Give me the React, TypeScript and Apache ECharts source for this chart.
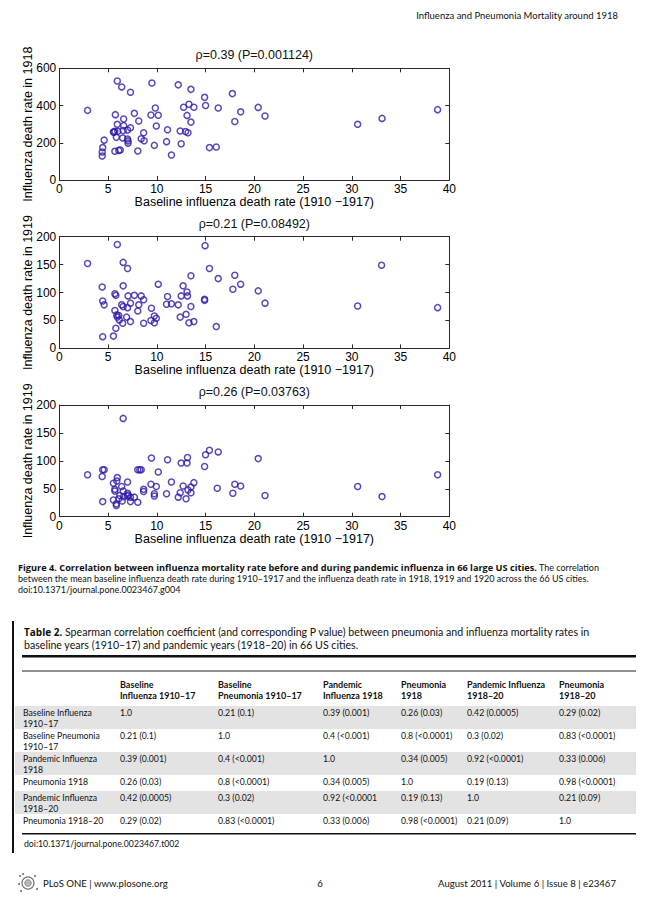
import React, { useEffect, useRef } from "react";
import * as echarts from "echarts";

// ---------- data ----------
const baseline1918 = [2.9, 4.4, 4.4, 4.45, 4.6, 5.55, 5.6, 5.7, 5.75, 5.7, 5.85, 5.95, 5.95, 6.0, 6.1, 6.25, 6.4, 6.5, 6.55, 6.6, 6.6, 7.0, 7.0, 7.05, 7.05, 7.3, 7.3, 7.7, 8.05, 8.15, 8.4, 8.65, 8.7, 9.4, 9.5, 9.75, 9.85, 9.95, 10.15, 11.0, 11.1, 11.5, 12.2, 12.4, 12.5, 12.75, 12.95, 13.1, 13.2, 13.3, 13.5, 13.5, 13.8, 14.9, 15.0, 15.4, 16.1, 16.3, 17.75, 18.0, 18.6, 20.4, 21.1, 30.6, 33.1, 38.8];
const rate1918 = [374, 129, 150, 174, 214, 258, 256, 262, 351, 154, 229, 299, 532, 262, 159, 161, 500, 226, 266, 292, 328, 269, 220, 198, 210, 281, 471, 358, 156, 317, 222, 254, 211, 349, 521, 186, 387, 290, 348, 206, 270, 134, 511, 263, 195, 391, 260, 347, 254, 407, 311, 487, 391, 444, 400, 174, 177, 387, 464, 314, 366, 390, 344, 299, 331, 378];

const baseline1919 = [2.9, 5.95, 14.95, 6.55, 7.0, 15.4, 33.05, 13.5, 18.0, 16.3, 18.6, 10.15, 6.55, 12.7, 17.8, 20.4, 4.4, 13.1, 11.1, 12.5, 13.15, 7.05, 7.7, 8.4, 8.65, 5.7, 5.8, 4.45, 4.6, 14.9, 14.9, 21.1, 7.3, 8.15, 6.55, 6.4, 7.0, 11.0, 11.5, 12.2, 13.5, 30.6, 38.8, 9.45, 8.05, 5.7, 5.9, 6.1, 5.95, 6.9, 9.75, 9.95, 12.4, 13.0, 6.15, 7.3, 9.4, 9.75, 6.5, 8.65, 13.3, 13.8, 5.8, 16.1, 4.45, 5.55];
const rate1919 = [152, 186, 184, 154, 143, 143, 149, 130, 131, 125, 115, 115, 112, 112, 106, 103, 110, 101, 93, 94, 94, 94, 95, 94, 87, 98, 95, 85, 78, 88, 86, 81, 81, 78, 75, 78, 73, 79, 80, 78, 75, 76, 73, 72, 67, 68, 60, 59, 56, 56, 58, 54, 56, 61, 51, 48, 50, 46, 45, 45, 46, 48, 36, 39, 21, 22];

const baseline1920 = [2.9, 6.55, 4.45, 4.6, 4.4, 4.45, 9.45, 11.1, 12.5, 13.1, 13.15, 15.0, 15.4, 16.3, 20.4, 14.9, 8.05, 8.25, 8.4, 10.15, 7.0, 11.5, 13.8, 5.95, 5.9, 5.55, 6.4, 5.7, 5.7, 6.55, 8.65, 8.65, 9.4, 9.95, 9.75, 9.75, 11.0, 12.7, 13.5, 13.2, 13.5, 12.4, 12.2, 13.0, 16.2, 18.0, 18.6, 17.8, 21.1, 30.6, 33.1, 38.8, 5.55, 5.85, 5.85, 6.2, 6.1, 6.45, 6.6, 7.0, 7.05, 7.3, 7.3, 7.7, 8.05, 7.0];
const rate1920 = [75, 176, 84, 84, 72, 27, 105, 102, 96, 96, 106, 111, 119, 116, 104, 90, 84, 84, 84, 80, 62, 62, 61, 70, 64, 60, 54, 49, 46, 46, 49, 45, 58, 54, 41, 37, 41, 55, 53, 48, 43, 43, 35, 32, 51, 58, 55, 42, 38, 54, 36, 75, 30, 23, 20, 38, 32, 28, 36, 42, 39, 35, 27, 35, 26, 37];

const plotTitles = ["ρ=0.39 (P=0.001124)", "ρ=0.21 (P=0.08492)", "ρ=0.26 (P=0.03763)"];
const yAxisNames = ["Influenza death rate in 1918", "Influenza death rate in 1919", "Influenza death rate in 1919"];
const xAxisName = "Baseline influenza death rate (1910 −1917)";
const yMaxes = [600, 200, 200];
const yIntervals = [200, 50, 50];

const pageHeader = "Influenza and Pneumonia Mortality around 1918";
const captionBold = "Figure 4. Correlation between influenza mortality rate before and during pandemic influenza in 66 large US cities.";
const captionLines = [
  " The correlation",
  "between the mean baseline influenza death rate during 1910–1917 and the influenza death rate in 1918, 1919 and 1920 across the 66 US cities.",
  "doi:10.1371/journal.pone.0023467.g004",
];
const tableTitleBold = "Table 2.";
const tableTitleLines = [
  " Spearman correlation coefficient (and corresponding P value) between pneumonia and influenza mortality rates in",
  "baseline years (1910–17) and pandemic years (1918–20) in 66 US cities.",
];
const tableColumns = [
  ["Baseline", "Influenza 1910–17"],
  ["Baseline", "Pneumonia 1910–17"],
  ["Pandemic", "Influenza 1918"],
  ["Pneumonia", "1918"],
  ["Pandemic Influenza", "1918–20"],
  ["Pneumonia", "1918–20"],
];
const tableRowLabels = [
  ["Baseline Influenza", "1910–17"],
  ["Baseline Pneumonia", "1910–17"],
  ["Pandemic Influenza", "1918"],
  ["Pneumonia 1918"],
  ["Pandemic Influenza", "1918–20"],
  ["Pneumonia 1918–20"],
];
const tableCells = [
  ["1.0", "0.21 (0.1)", "0.39 (0.001)", "0.26 (0.03)", "0.42 (0.0005)", "0.29 (0.02)"],
  ["0.21 (0.1)", "1.0", "0.4 (<0.001)", "0.8 (<0.0001)", "0.3 (0.02)", "0.83 (<0.0001)"],
  ["0.39 (0.001)", "0.4 (<0.001)", "1.0", "0.34 (0.005)", "0.92 (<0.0001)", "0.33 (0.006)"],
  ["0.26 (0.03)", "0.8 (<0.0001)", "0.34 (0.005)", "1.0", "0.19 (0.13)", "0.98 (<0.0001)"],
  ["0.42 (0.0005)", "0.3 (0.02)", "0.92 (<0.0001", "0.19 (0.13)", "1.0", "0.21 (0.09)"],
  ["0.29 (0.02)", "0.83 (<0.0001)", "0.33 (0.006)", "0.98 (<0.0001)", "0.21 (0.09)", "1.0"],
];
const tableDoi = "doi:10.1371/journal.pone.0023467.t002";
const footerLeft = "PLoS ONE | www.plosone.org";
const footerPage = "6";
const footerRight = "August 2011 | Volume 6 | Issue 8 | e23467";

// ---------- layout ----------
const W = 651;
const H = 901;
const GRID_LEFT = 59.3;
const GRID_WIDTH = 390;
const GRID_TOPS = [68.3, 236.7, 405];
const GRID_HEIGHT = 111.7;
const TITLE_Y = [55, 223.5, 392];
const PLOT_FONT = "'Liberation Sans', Arial, sans-serif";
const DOC_FONT = "Lato, 'Open Sans', sans-serif";
const BOLD_FONT = "'Open Sans', Lato, sans-serif";
const MARK = "#3119a8";
const AXIS = "#2a2a2a";

function buildOption() {
  const xs = [baseline1918, baseline1919, baseline1920];
  const ys = [rate1918, rate1919, rate1920];
  const grids: any[] = [];
  const xAxes: any[] = [];
  const yAxes: any[] = [];
  const series: any[] = [];
  const g: any[] = [];

  for (let i = 0; i < 3; i++) {
    grids.push({ left: GRID_LEFT, top: GRID_TOPS[i], width: GRID_WIDTH, height: GRID_HEIGHT, containLabel: false });
    const line = { show: true, onZero: false, lineStyle: { color: AXIS, width: 1 } };
    const tick = { show: true, inside: true, length: 4, lineStyle: { color: AXIS, width: 1 } };
    xAxes.push({
      gridIndex: i, type: "value", position: "bottom", min: 0, max: 40, interval: 5,
      axisLine: line, axisTick: tick, splitLine: { show: false },
      axisLabel: { color: "#000", fontSize: 12, fontFamily: PLOT_FONT, margin: 3 },
      name: xAxisName, nameLocation: "middle", nameGap: 22, nameMoveOverlap: false,
      nameTextStyle: { color: "#000", fontSize: 12.5, fontFamily: PLOT_FONT, verticalAlign: "middle" },
    });
    xAxes.push({
      gridIndex: i, type: "value", position: "top", min: 0, max: 40, interval: 5,
      axisLine: line, axisTick: tick, splitLine: { show: false }, axisLabel: { show: false },
    });
    yAxes.push({
      gridIndex: i, type: "value", position: "left", min: 0, max: yMaxes[i], interval: yIntervals[i],
      axisLine: line, axisTick: tick, splitLine: { show: false },
      axisLabel: { color: "#000", fontSize: 12, fontFamily: PLOT_FONT, margin: 3 },
      name: yAxisNames[i], nameLocation: "middle", nameGap: 31, nameMoveOverlap: false,
      nameTextStyle: { color: "#000", fontSize: 12.5, fontFamily: PLOT_FONT, verticalAlign: "middle" },
    });
    yAxes.push({
      gridIndex: i, type: "value", position: "right", min: 0, max: yMaxes[i], interval: yIntervals[i],
      axisLine: line, axisTick: tick, splitLine: { show: false }, axisLabel: { show: false },
    });
    series.push({
      type: "scatter", xAxisIndex: 2 * i, yAxisIndex: 2 * i,
      data: xs[i].map((x, k) => [x, ys[i][k]]),
      symbol: "circle", symbolSize: 6,
      itemStyle: { color: "rgba(0,0,0,0)", borderColor: MARK, borderWidth: 1.5 },
      emphasis: { disabled: true },
    });
    g.push(text(GRID_LEFT + GRID_WIDTH / 2, TITLE_Y[i], plotTitles[i], { size: 12.5, family: PLOT_FONT, align: "center" }));
  }

  // page header
  g.push(text(618, 15, pageHeader, { size: 9.5, align: "right" }));

  // caption
  g.push(rich(18, 567, captionBold, captionLines[0], 9.2, 9));
  g.push(text(18, 578, captionLines[1], { size: 9 }));
  g.push(text(18, 589, captionLines[2], { size: 9 }));

  // table
  g.push({ type: "rect", silent: true, shape: { x: 12, y: 621, width: 2, height: 232 }, style: { fill: "#111" } });
  g.push(rich(24, 632, tableTitleBold, tableTitleLines[0], 10, 10.6));
  g.push(text(24, 645, tableTitleLines[1], { size: 10.6 }));
  const RULE_L = 22, RULE_R = 636;
  g.push({ type: "rect", silent: true, shape: { x: RULE_L, y: 655, width: RULE_R - RULE_L, height: 2.4 }, style: { fill: "#111" } });
  g.push({ type: "rect", silent: true, shape: { x: RULE_L, y: 670.5, width: RULE_R - RULE_L, height: 1 }, style: { fill: "#222" } });
  const colX = [23, 120, 218, 323, 401, 467, 559];
  tableColumns.forEach((lines, c) => {
    lines.forEach((ln, k) => g.push(text(colX[c + 1], 684 + k * 11.5, ln, { size: 9, weight: "bold" })));
  });
  let top = 706;
  tableRowLabels.forEach((lab, r) => {
    const h = lab.length === 2 ? 23 : 16;
    if (r % 2 === 0) {
      g.push({ type: "rect", silent: true, z: -1, shape: { x: 15, y: top, width: RULE_R - 15, height: h }, style: { fill: "#e3e3e3" } });
    }
    lab.forEach((ln, k) => g.push(text(colX[0], top + 6 + k * 11, ln, { size: 8.7 })));
    tableCells[r].forEach((v, c) => g.push(text(colX[c + 1], top + 6, v, { size: 8.7 })));
    top += h;
  });
  g.push({ type: "rect", silent: true, shape: { x: RULE_L, y: top + 3, width: RULE_R - RULE_L, height: 1.4 }, style: { fill: "#111" } });
  g.push(text(24, top + 13, tableDoi, { size: 8.7 }));

  // footer
  g.push({ type: "circle", silent: true, shape: { cx: 28, cy: 883, r: 6 }, style: { fill: "none", stroke: "#777", lineWidth: 1.2 } });
  g.push({ type: "circle", silent: true, shape: { cx: 28, cy: 883, r: 3.2 }, style: { fill: "#bbb", stroke: "#666", lineWidth: 0.8 } });
  [[20, 876], [23, 874], [35, 876], [21, 891], [37, 889], [19, 884]].forEach(([cx, cy]) =>
    g.push({ type: "circle", silent: true, shape: { cx, cy, r: 0.9 }, style: { fill: "#555" } })
  );
  g.push(text(43, 883, footerLeft, { size: 9.6 }));
  g.push(text(320, 883, footerPage, { size: 9.6, align: "center" }));
  g.push(text(616, 883, footerRight, { size: 9.6, align: "right" }));

  return {
    animation: false,
    backgroundColor: "#fff",
    grid: grids,
    xAxis: xAxes,
    yAxis: yAxes,
    series,
    graphic: { elements: g },
  };
}

function text(x: number, y: number, s: string, o: any = {}) {
  const align = o.align || "left";
  return {
    type: "text", silent: true, x, y,
    style: {
      text: s, fill: o.fill || "#111",
      fontSize: o.size || 9, fontFamily: o.family || DOC_FONT, fontWeight: o.weight || "normal",
      align, textAlign: align, verticalAlign: "middle", textVerticalAlign: "middle",
    },
  };
}

function rich(x: number, y: number, bold: string, rest: string, boldSize: number, size: number) {
  return {
    type: "text", silent: true, x, y,
    style: {
      text: `{b|${bold}}{n|${rest}}`,
      fill: "#111", fontSize: size, fontFamily: DOC_FONT,
      align: "left", textAlign: "left", verticalAlign: "middle", textVerticalAlign: "middle",
      rich: {
        b: { fontSize: boldSize, fontFamily: BOLD_FONT, fontWeight: "bold", fill: "#111" },
        n: { fontSize: size, fontFamily: DOC_FONT, fontWeight: "normal", fill: "#111" },
      },
    },
  };
}

export default function App() {
  const ref = useRef<HTMLDivElement>(null);
  useEffect(() => {
    if (!ref.current) return;
    const chart = echarts.init(ref.current, undefined, { renderer: "svg" });
    chart.setOption(buildOption() as any);
    return () => chart.dispose();
  }, []);
  return (
    <div
      ref={ref}
      style={{ position: "absolute", left: 0, top: 0, width: W, height: H, background: "#fff" }}
    />
  );
}
